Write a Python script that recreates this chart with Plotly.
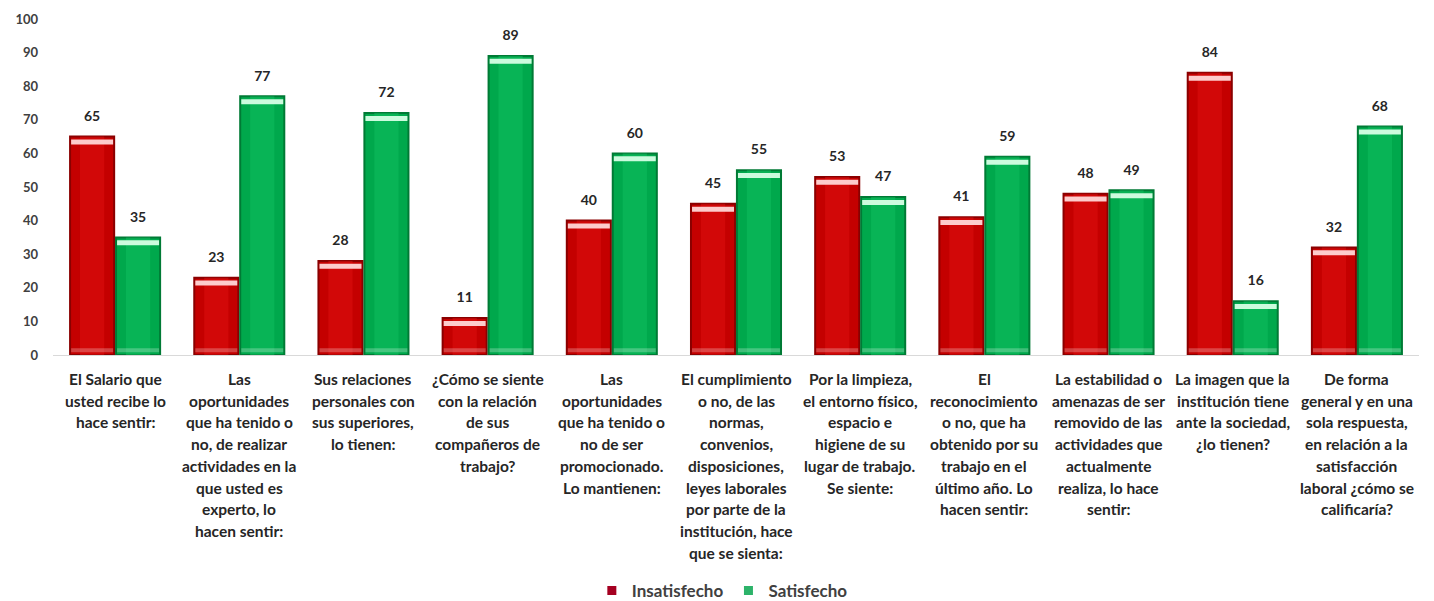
import plotly.graph_objects as go

categories = [
    "El Salario que<br>usted recibe lo<br>hace sentir:",
    "Las<br>oportunidades<br>que ha tenido o<br>no, de realizar<br>actividades en la<br>que usted es<br>experto, lo<br>hacen sentir:",
    "Sus relaciones<br>personales con<br>sus superiores,<br>lo tienen:",
    "¿Cómo se siente<br>con la relación<br>de sus<br>compañeros de<br>trabajo?",
    "Las<br>oportunidades<br>que ha tenido o<br>no de ser<br>promocionado.<br>Lo mantienen:",
    "El cumplimiento<br>o no, de las<br>normas,<br>convenios,<br>disposiciones,<br>leyes laborales<br>por parte de la<br>institución, hace<br>que se sienta:",
    "Por la limpieza,<br>el entorno físico,<br>espacio e<br>higiene de su<br>lugar de trabajo.<br>Se siente:",
    "El<br>reconocimiento<br>o no, que ha<br>obtenido por su<br>trabajo en el<br>último año. Lo<br>hacen sentir:",
    "La estabilidad o<br>amenazas de ser<br>removido de las<br>actividades que<br>actualmente<br>realiza, lo hace<br>sentir:",
    "La imagen que la<br>institución tiene<br>ante la sociedad,<br>¿lo tienen?",
    "De forma<br>general y en una<br>sola respuesta,<br>en relación a la<br>satisfacción<br>laboral ¿cómo se<br>calificaría?",
]
insatisfecho = [65, 23, 28, 11, 40, 45, 53, 41, 48, 84, 32]
satisfecho = [35, 77, 72, 89, 60, 55, 47, 59, 49, 16, 68]
y_ticks = list(range(0, 101, 10))

FONT = "Lato, 'Open Sans', sans-serif"
idx = list(range(len(categories)))
OFFSET = 0.185
WIDTH = 0.355

series = [
    ("Insatisfecho", insatisfecho, -OFFSET, "#C40000", "#8A0000", "#E01010", "rgba(255,215,215,0.95)", "#A50021"),
    ("Satisfecho", satisfecho, OFFSET, "#00A84C", "#007A35", "#10C060", "rgba(215,255,230,0.95)", "#2DB36A"),
]

fig = go.Figure()
for name, vals, off, main, edge, core, shine, key in series:
    xs = [i + off for i in idx]
    # body of the cylinder with darker rim
    fig.add_trace(go.Bar(
        x=xs, y=vals, width=WIDTH, name=name, showlegend=False,
        marker=dict(color=main, line=dict(color=edge, width=2)),
        hoverinfo="y",
    ))
    # brighter core stripe
    fig.add_trace(go.Bar(
        x=xs, y=vals, width=WIDTH * 0.55, showlegend=False,
        marker=dict(color=core, opacity=0.5, line=dict(width=0)),
        hoverinfo="skip",
    ))
    # glossy cap just under the top of each bar
    fig.add_trace(go.Scatter(
        x=xs, y=[v - 1.6 for v in vals], mode="markers", showlegend=False,
        marker=dict(symbol="line-ew", size=30, line=dict(color=shine, width=5)),
        hoverinfo="skip",
    ))
    # faint reflection near the base
    fig.add_trace(go.Scatter(
        x=xs, y=[1.4] * len(vals), mode="markers", showlegend=False,
        marker=dict(symbol="line-ew", size=30, line=dict(color="rgba(255,255,255,0.25)", width=4)),
        hoverinfo="skip",
    ))
    # value labels above the bars
    fig.add_trace(go.Scatter(
        x=xs, y=vals, mode="markers+text", showlegend=False,
        marker=dict(size=18, color="rgba(0,0,0,0)"),
        text=[str(v) for v in vals], textposition="top center",
        textfont=dict(family=FONT, size=14, color="#262626", weight="bold"),
        hoverinfo="skip", cliponaxis=False,
    ))
    # small square legend key
    fig.add_trace(go.Scatter(
        x=[None], y=[None], mode="markers", name=name,
        marker=dict(symbol="square", size=9, color=key),
    ))

# category labels, one text line at a time for a looser line spacing
LINE_FIRST = 24
LINE_STEP = 21.7
annotations = []
for i, label in enumerate(categories):
    for j, line in enumerate(label.split("<br>")):
        annotations.append(dict(
            x=i, xref="x", y=0, yref="paper", yanchor="middle", xanchor="center",
            yshift=-(LINE_FIRST + j * LINE_STEP), showarrow=False, text=line,
            font=dict(family=FONT, size=15.5, color="#262626", weight="bold"),
        ))

fig.update_layout(
    width=1434, height=601,
    margin=dict(l=53, r=15, t=19, b=246, autoexpand=False),
    paper_bgcolor="white", plot_bgcolor="white",
    barmode="overlay",
    font=dict(family=FONT, color="#262626"),
    showlegend=True,
    annotations=annotations,
    legend=dict(
        orientation="h", x=0.49, xanchor="center",
        yref="container", y=10 / 601, yanchor="middle",
        font=dict(family=FONT, size=17, color="#404040", weight="bold"),
        itemwidth=30, tracegroupgap=0,
    ),
    xaxis=dict(
        range=[-0.5, len(categories) - 0.5],
        tickmode="array", tickvals=idx, showticklabels=False,
        showgrid=False, zeroline=False, automargin=False,
        showline=True, linecolor="#D9D9D9", linewidth=1, ticks="",
    ),
    yaxis=dict(
        range=[0, 100], tickmode="array", tickvals=y_ticks, automargin=False,
        showgrid=False, zeroline=False, showline=False, ticks="",
        tickfont=dict(family=FONT, size=13, color="#404040", weight="bold"),
        ticklabelstandoff=14,
    ),
)

fig.write_html("out.html")
